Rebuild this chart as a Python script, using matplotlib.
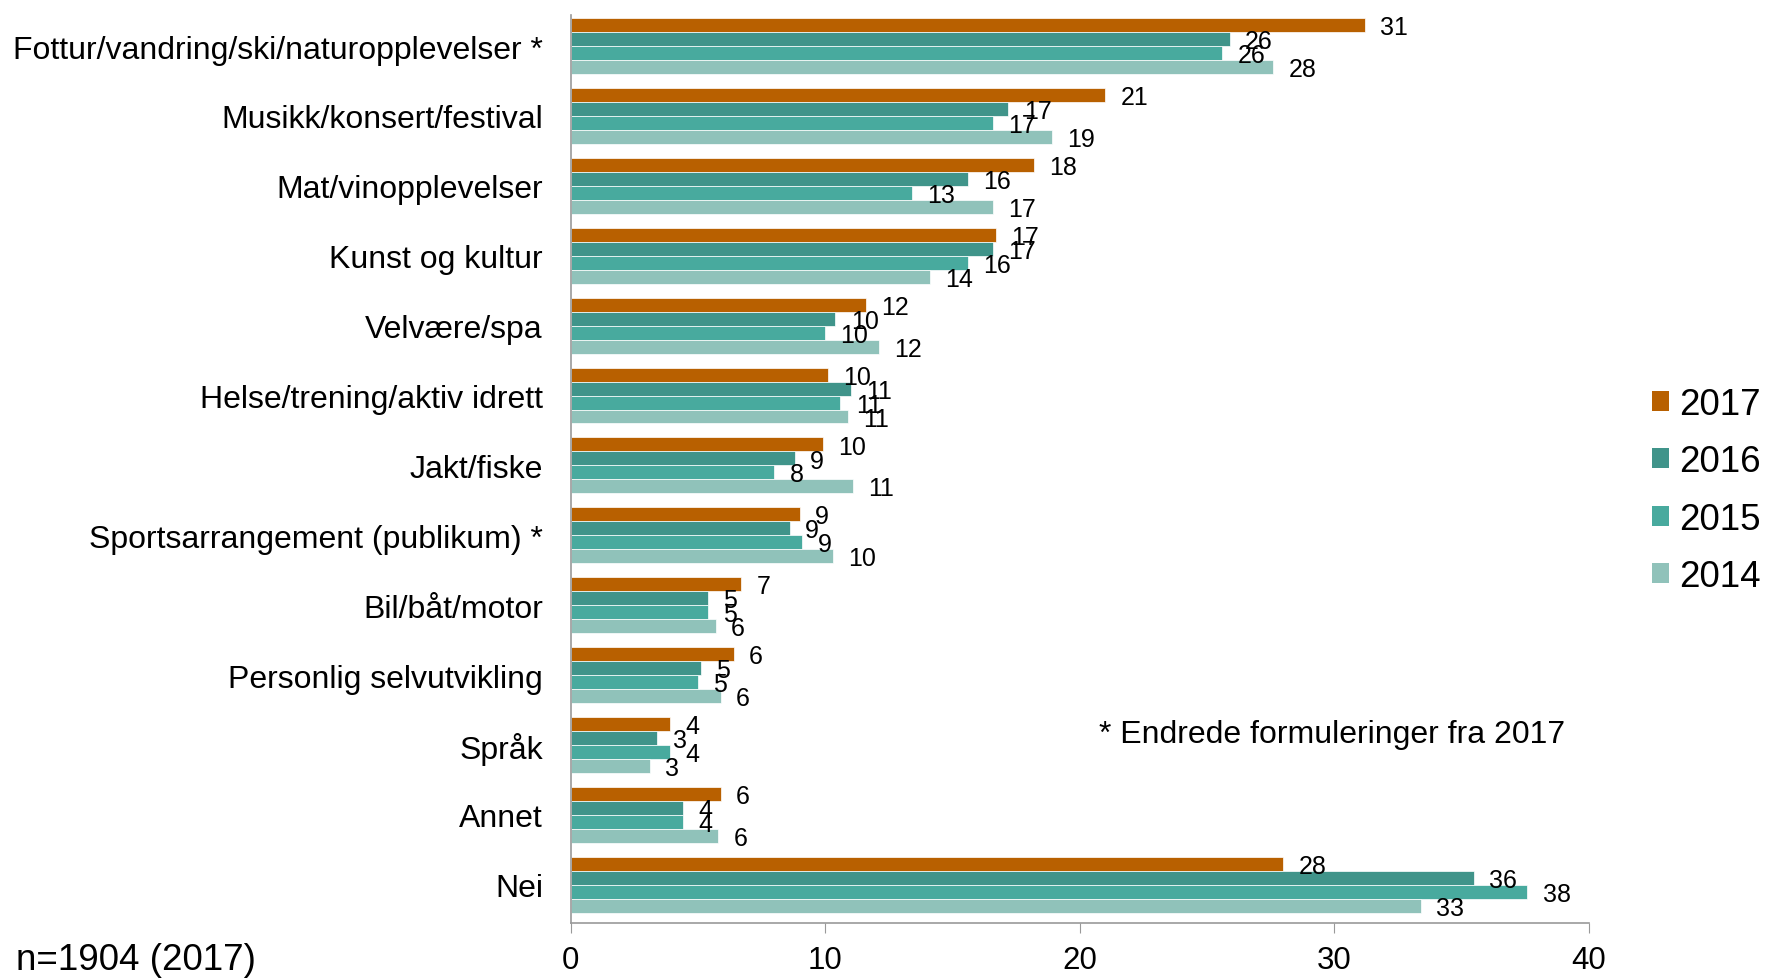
import matplotlib
matplotlib.use('Agg')
import matplotlib.pyplot as plt
from matplotlib.patches import Patch
import numpy as np

plt.rcParams['font.family'] = ['Liberation Sans', 'DejaVu Sans']

categories = ['Fottur/vandring/ski/naturopplevelser *', 'Musikk/konsert/festival',
              'Mat/vinopplevelser', 'Kunst og kultur', 'Velvære/spa',
              'Helse/trening/aktiv idrett', 'Jakt/fiske',
              'Sportsarrangement (publikum) *', 'Bil/båt/motor',
              'Personlig selvutvikling', 'Språk', 'Annet', 'Nei']
years = ['2017', '2016', '2015', '2014']
v2017 = [31.2, 21.0, 18.2, 16.7, 11.6, 10.1, 9.9, 9.0, 6.7, 6.4, 3.9, 5.9, 28.0]
v2016 = [25.9, 17.2, 15.6, 16.6, 10.4, 11.0, 8.8, 8.6, 5.4, 5.1, 3.4, 4.4, 35.5]
v2015 = [25.6, 16.6, 13.4, 15.6, 10.0, 10.6, 8.0, 9.1, 5.4, 5.0, 3.9, 4.4, 37.6]
v2014 = [27.6, 18.9, 16.6, 14.1, 12.1, 10.9, 11.1, 10.3, 5.7, 5.9, 3.1, 5.8, 33.4]
colors = ['#B86000', '#40948A', '#48AA9E', '#90C2BA']

fig = plt.figure(figsize=(17.67, 9.79), dpi=100)
ax = fig.add_axes([0.323, 0.056, 0.576, 0.928])

y = np.arange(len(categories))
h = 0.2
for k, (vals, col) in enumerate(zip([v2017, v2016, v2015, v2014], colors)):
    pos = y - 0.3 + k * h
    ax.barh(pos, vals, height=h, color=col, edgecolor='white', linewidth=0.5)
    for p, v in zip(pos, vals):
        ax.annotate(f'{v:.0f}', (v, p), xytext=(11, -1.5), textcoords='offset points',
                    ha='left', va='center', fontsize=18)

# small shift so the bars sit a bit higher, like the original
ax.set_ylim(len(categories) - 0.5 + 0.05, -0.5 + 0.05)
ax.set_xlim(0, 40)
ax.set_yticks(y)
ax.set_yticklabels(categories, fontsize=23)
ax.tick_params(axis='y', length=0, pad=20)
ax.set_xticks([0, 10, 20, 30, 40])
ax.tick_params(axis='x', labelsize=22.5, length=7, color='#999999', pad=9)
for s in ['top', 'right']:
    ax.spines[s].set_visible(False)
for s in ['left', 'bottom']:
    ax.spines[s].set_color('#999999')
    ax.spines[s].set_linewidth(1.2)

handles = [Patch(facecolor=c, edgecolor='none') for c in colors]
fig.legend(handles, years, loc='center left', bbox_to_anchor=(0.935, 0.498),
           frameon=False, fontsize=26.5, handlelength=0.46, handleheight=0.46,
           handletextpad=0.27, labelspacing=0.61, borderpad=0, borderaxespad=0)

fig.text(1099 / 1767, 1 - 735 / 979, '* Endrede formuleringer fra 2017',
         fontsize=23, va='center', ha='left')
fig.text(16 / 1767, 1 - 961 / 979, 'n=1904 (2017)', fontsize=26.5, va='center', ha='left')

fig.savefig('out.png', dpi=100)
